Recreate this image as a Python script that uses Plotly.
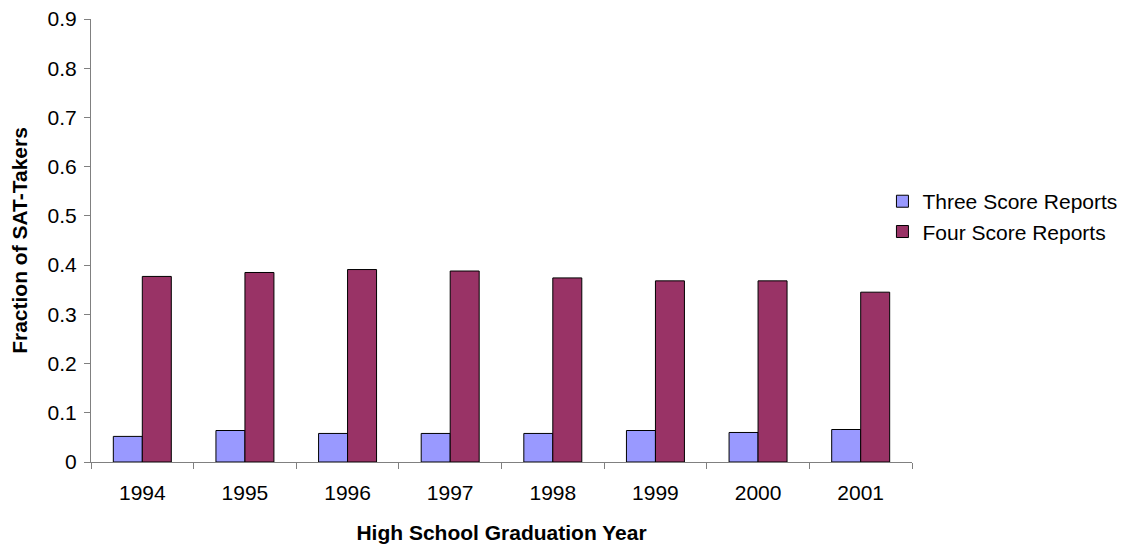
import plotly.graph_objects as go

years = ["1994", "1995", "1996", "1997", "1998", "1999", "2000", "2001"]
three_scores = [0.052, 0.064, 0.058, 0.058, 0.058, 0.064, 0.060, 0.066]
four_scores = [0.377, 0.385, 0.391, 0.388, 0.374, 0.368, 0.368, 0.345]

font_family = "Liberation Sans, Arial, sans-serif"

fig = go.Figure()
fig.add_trace(go.Bar(x=years, y=three_scores, name="Three Score Reports",
                     marker=dict(color="#9999FF", line=dict(color="#000000", width=1))))
fig.add_trace(go.Bar(x=years, y=four_scores, name="Four Score Reports",
                     marker=dict(color="#993366", line=dict(color="#000000", width=1))))

fig.update_layout(
    width=1125, height=545,
    margin=dict(l=83, r=215, t=11, b=91),
    paper_bgcolor="white", plot_bgcolor="white",
    font=dict(family=font_family, size=21, color="#000000"),
    barmode="group", bargap=0.435, bargroupgap=0,
    legend=dict(x=0.964, y=0.554, xanchor="left", yanchor="middle",
                xref="paper", font=dict(size=21), itemwidth=30,
                bgcolor="rgba(0,0,0,0)"),
    showlegend=True,
)
fig.update_xaxes(
    automargin=False,
    showline=True, linecolor="#808080", linewidth=1,
    ticks="outside", ticklen=6, tickcolor="#808080", tickson="boundaries",
    showgrid=False, ticklabelstandoff=12, ticklabeloverflow="allow",
    title=dict(text="<b>High School Graduation Year</b>", font=dict(size=21), standoff=22),
    tickfont=dict(size=21),
)
fig.update_yaxes(
    automargin=False,
    range=[0, 0.9], dtick=0.1, tick0=0,
    showline=True, linecolor="#808080", linewidth=1,
    ticks="outside", ticklen=6, tickcolor="#808080",
    showgrid=False, zeroline=False, ticklabelstandoff=3, ticklabeloverflow="allow",
    title=dict(text="<b>Fraction of SAT-Takers</b>", font=dict(size=21), standoff=16),
    tickfont=dict(size=21),
)

fig.write_html("out.html")
